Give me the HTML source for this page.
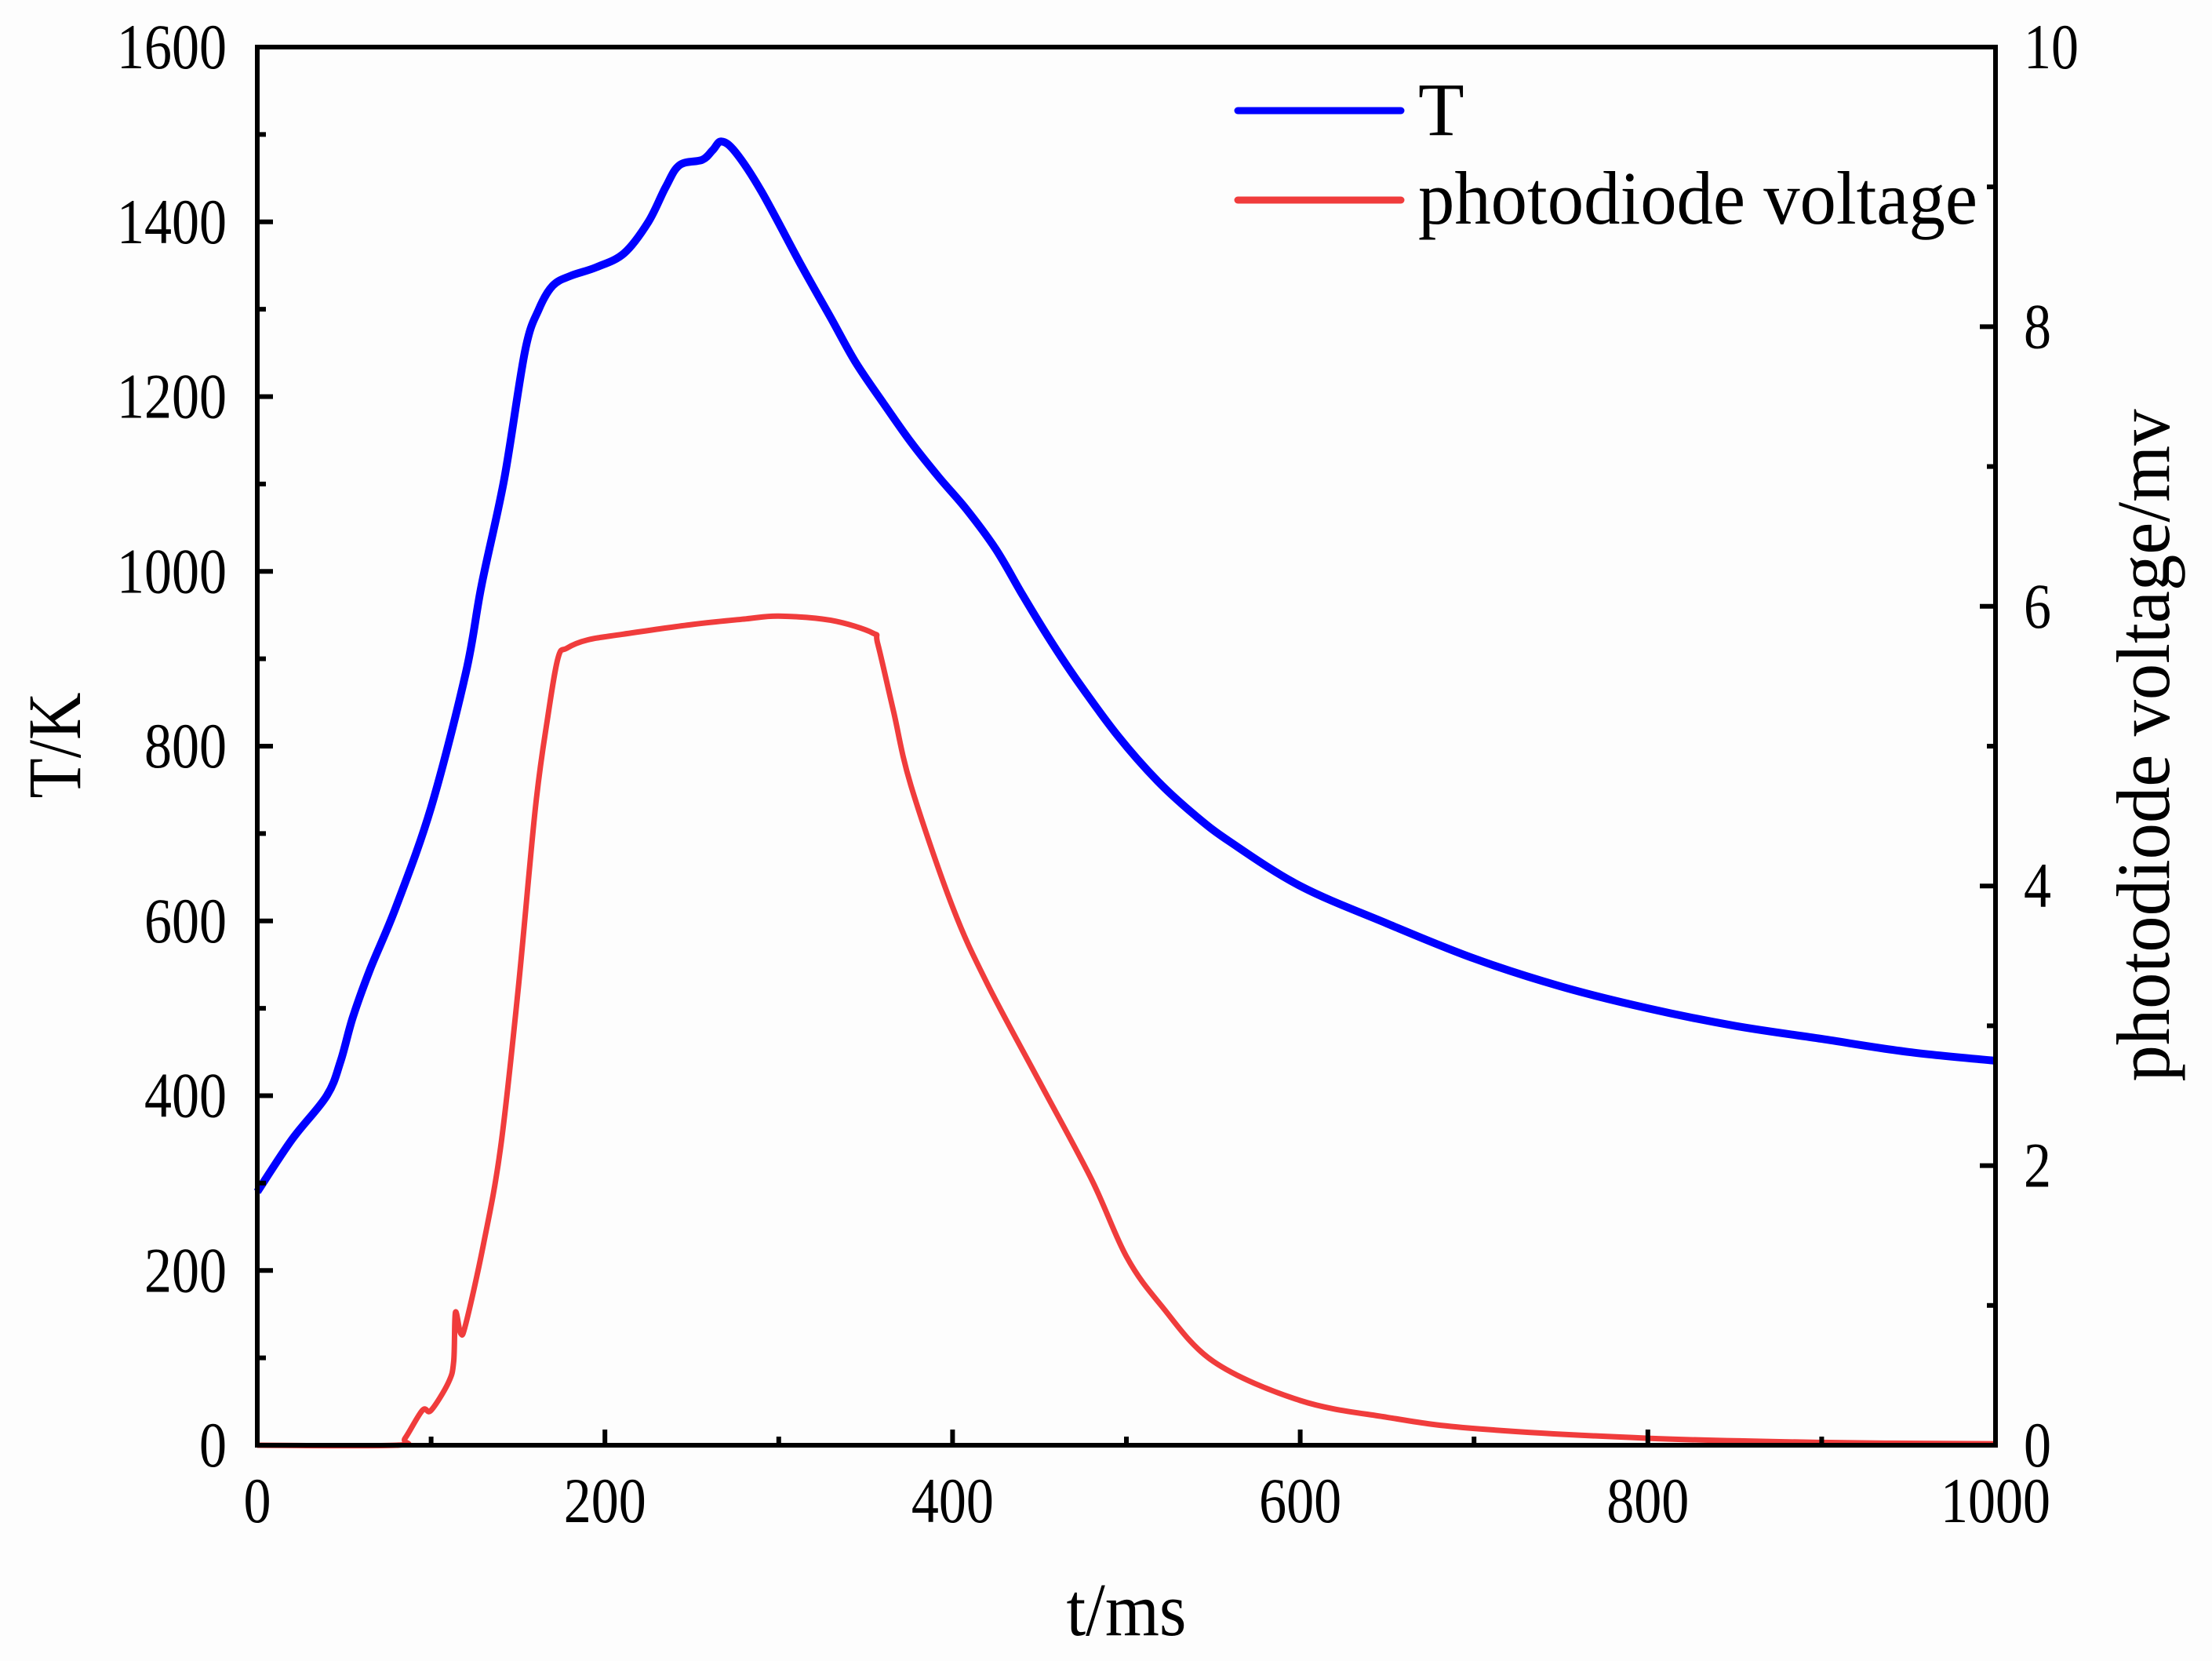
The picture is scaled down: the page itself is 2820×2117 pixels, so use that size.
<!DOCTYPE html>
<html><head><meta charset="utf-8"><style>
html,body{margin:0;padding:0;background:#fdfdfd;}
svg{display:block;font-family:"Liberation Serif",serif;}
</style></head><body>
<svg id="chart" width="2820" height="2117" viewBox="0 0 2820 2117" xmlns="http://www.w3.org/2000/svg">
<rect x="0" y="0" width="2820" height="2117" fill="#fdfdfd"/>
<g id="plot"></g>
</svg>
<script>
const tCats = [0,20,40,48,55,65,80,100,120,129,142,154,162,170,180,195,211,225,235,243,256,262,267,275,290,313,330,344,360,376,392,408,425,440,455,471,495,518,540,560,600,650,700,750,800,850,900,950,1000];
const tempVals = [290,350,400,440,490,545,617,730,884,984,1105,1252,1300,1327,1338,1348,1364,1400,1440,1465,1471,1482,1492,1480,1435,1350,1290,1240,1193,1148,1108,1071,1025,974,925,877,812,760,720,690,640,597,557,525,500,480,465,450,440];
const vCats = [0,80,85,95,100,110,113,114,117,120,130,140,150,160,167,173,178,190,210,250,281,300,330,354,357,366,376,400,420,450,480,500,520,550,600,650,700,800,900,1000];
const voltVals = [0,0,0.05,0.25,0.25,0.45,0.6,0.95,0.8,0.87,1.43,2.13,3.25,4.56,5.2,5.63,5.7,5.76,5.8,5.87,5.91,5.93,5.9,5.81,5.73,5.25,4.72,3.85,3.3,2.6,1.9,1.35,1.0,0.6,0.32,0.2,0.12,0.05,0.02,0.01];
const xTicks = [0,200,400,600,800,1000];
const yTicks = [0,200,400,600,800,1000,1200,1400,1600];
const y2Ticks = [0,2,4,6,8,10];

const L=328,R=2544,T=60,B=1842;
const NS="http://www.w3.org/2000/svg";
const g=document.getElementById('plot');
const xs=v=>L+(v-0)/(1000-0)*(R-L);
const ys=v=>B-(v/1600)*(B-T);
const ys2=v=>B-(v/10)*(B-T);
function mk(tag,attrs,parent){const e=document.createElementNS(NS,tag);for(const k in attrs)e.setAttribute(k,attrs[k]);(parent||g).appendChild(e);return e;}
function smooth(px){
  let d='M'+px[0][0].toFixed(1)+' '+px[0][1].toFixed(1);
  for(let i=0;i<px.length-1;i++){
    const p0=px[Math.max(i-1,0)],p1=px[i],p2=px[i+1],p3=px[Math.min(i+2,px.length-1)];
    const c1=[p1[0]+(p2[0]-p0[0])/6,p1[1]+(p2[1]-p0[1])/6];
    const c2=[p2[0]-(p3[0]-p1[0])/6,p2[1]-(p3[1]-p1[1])/6];
    d+=' C'+c1[0].toFixed(1)+' '+c1[1].toFixed(1)+' '+c2[0].toFixed(1)+' '+c2[1].toFixed(1)+' '+p2[0].toFixed(1)+' '+p2[1].toFixed(1);
  }
  return d;
}

// series
const tl=mk('path',{d:smooth(tCats.map((t,i)=>[xs(t),ys(tempVals[i])])),fill:'none',stroke:'#0000ff','stroke-width':10,'stroke-linejoin':'round'});


const vl=mk('path',{d:smooth(vCats.map((t,i)=>[xs(t),ys2(voltVals[i])])),fill:'none',stroke:'#f03c3c','stroke-width':7,'stroke-linejoin':'round'});



// frame
const fr=mk('rect',{x:L,y:T,width:R-L,height:B-T,fill:'none',stroke:'#000','stroke-width':6});



function lbl(txt,x,y,anchor,name){
  const s=String(txt);
  const t=mk('text',{x:x,y:y,'font-size':82,'text-anchor':anchor,textLength:s.length*35,lengthAdjust:'spacingAndGlyphs'});
  t.textContent=s;
  
  
}
// x ticks
for(let v=0;v<=1000;v+=100){
  const major=v%200===0;
  const tk=mk('line',{x1:xs(v),x2:xs(v),y1:B,y2:B-(major?20:11),stroke:'#000','stroke-width':6});
  
  
}
xTicks.forEach(v=>lbl(v,xs(v),1940,'middle','x-tick-label'));
// left y ticks
for(let v=0;v<=1600;v+=100){
  const major=v%200===0;
  const tk=mk('line',{x1:L,x2:L+(major?20:11),y1:ys(v),y2:ys(v),stroke:'#000','stroke-width':6});
  
  
}
yTicks.forEach(v=>lbl(v,289,ys(v)+27,'end','y-tick-label'));
// right ticks
for(let v=0;v<=10;v+=1){
  const major=v%2===0;
  const tk=mk('line',{x1:R,x2:R-(major?20:11),y1:ys2(v),y2:ys2(v),stroke:'#000','stroke-width':6});
  
  
}
y2Ticks.forEach(v=>lbl(v,2580,ys2(v)+27,'start','y2-tick-label'));

// titles
let t=mk('text',{x:1436,y:2084,'font-size':96,'text-anchor':'middle',textLength:153,lengthAdjust:'spacingAndGlyphs'});t.textContent='t/ms';


t=mk('text',{x:0,y:0,'font-size':96,'text-anchor':'middle',textLength:135,lengthAdjust:'spacingAndGlyphs',transform:'translate(102,950) rotate(-90)'});t.textContent='T/K';


t=mk('text',{x:0,y:0,'font-size':96,'text-anchor':'middle',textLength:857,lengthAdjust:'spacingAndGlyphs',transform:'translate(2765,950) rotate(-90)'});t.textContent='photodiode voltage/mv';



// legend
const lg=mk('g',{});


let l=mk('line',{x1:1578,x2:1786,y1:141,y2:141,stroke:'#0000ff','stroke-width':9,'stroke-linecap':'round'},lg);


t=mk('text',{x:1808,y:172,'font-size':96},lg);t.textContent='T';


l=mk('line',{x1:1578,x2:1786,y1:255,y2:255,stroke:'#f03c3c','stroke-width':9,'stroke-linecap':'round'},lg);


t=mk('text',{x:1808,y:285,'font-size':96,textLength:713,lengthAdjust:'spacingAndGlyphs'},lg);t.textContent='photodiode voltage';


</script>
</body></html>
